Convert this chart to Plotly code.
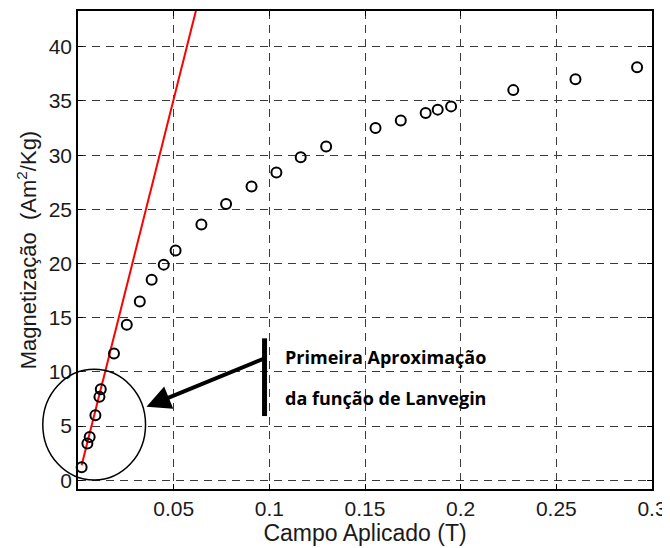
import plotly.graph_objects as go

# Data
campo = [0.0019, 0.0049, 0.0061, 0.0091, 0.0112, 0.0119, 0.0188, 0.0255, 0.0323,
         0.0385, 0.0448, 0.0510, 0.0645, 0.0774, 0.0907, 0.1037, 0.1164, 0.1297,
         0.1555, 0.1687, 0.1817, 0.1880, 0.1950, 0.2275, 0.2600, 0.2922]
magnet = [1.2, 3.4, 4.0, 6.0, 7.7, 8.4, 11.7, 14.35, 16.5,
          18.5, 19.9, 21.2, 23.6, 25.5, 27.1, 28.4, 29.8, 30.8,
          32.5, 33.2, 33.9, 34.2, 34.5, 36.0, 37.0, 38.1]

fit_x = [0.0019, 0.065]
fit_y = [1.4, 45.7]

x_ticks = [0.05, 0.1, 0.15, 0.2, 0.25, 0.3]
x_ticktext = ["0.05", "0.1", "0.15", "0.2", "0.25", "0.3"]
y_ticks = [0, 5, 10, 15, 20, 25, 30, 35, 40]

x_range = [0, 0.3]
y_range = [-0.8, 43.3]

def px_(x):
    return (x - x_range[0]) / (x_range[1] - x_range[0])

def py_(y):
    return (y - y_range[0]) / (y_range[1] - y_range[0])

fig = go.Figure()
fig.add_trace(go.Scatter(x=fit_x, y=fit_y, mode="lines",
                         line=dict(color="#ff0000", width=2), showlegend=False))
fig.add_trace(go.Scatter(x=campo, y=magnet, mode="markers",
                         marker=dict(symbol="circle-open", size=10, color="black",
                                     line=dict(width=2, color="black")),
                         showlegend=False, cliponaxis=False))

axis_common = dict(showline=True, linecolor="black", linewidth=1.5, mirror="ticks",
                   ticks="inside", ticklen=5, tickcolor="black",
                   showgrid=True, gridcolor="#3a3a3a", griddash="8px,6px", gridwidth=1,
                   zeroline=False, automargin=False,
                   tickfont=dict(family="Liberation Sans, Arial", size=21, color="#1a1a1a"))

fig.update_xaxes(range=x_range, tickvals=x_ticks, ticktext=x_ticktext,
                 title=dict(text="Campo Aplicado (T)", standoff=2,
                            font=dict(family="Liberation Sans, Arial", size=23, color="#1a1a1a")),
                 **axis_common)
fig.update_yaxes(range=y_range, tickvals=y_ticks,
                 title=dict(text="Magnetização  (Am<sup>2</sup>/Kg)", standoff=6,
                            font=dict(family="Liberation Sans, Arial", size=22, color="#1a1a1a")),
                 **axis_common)

# Ellipse around the first points (paper ref so it is not clipped)
ell_x = [-0.0184, 0.0353]
ell_y = [0.03, 10.24]
fig.add_shape(type="circle", xref="paper", yref="paper",
              x0=px_(ell_x[0]), x1=px_(ell_x[1]), y0=py_(ell_y[0]), y1=py_(ell_y[1]),
              line=dict(color="black", width=1.5))

# Vertical bar
fig.add_shape(type="line", xref="x", yref="y", x0=0.0975, x1=0.0975, y0=5.93, y1=13.1,
              line=dict(color="black", width=5))

# Arrow
fig.add_annotation(x=0.0358, y=6.79, ax=0.0975, ay=11.25, xref="x", yref="y",
                   axref="x", ayref="y", text="", showarrow=True,
                   arrowhead=2, arrowsize=1.2, arrowwidth=4, arrowcolor="black")

fig.add_annotation(x=0.1072, y=11.4, xref="x", yref="y", xanchor="left",
                   text="<b>Primeira Aproximação</b>", showarrow=False,
                   font=dict(family="Open Sans", size=18, color="black"))
fig.add_annotation(x=0.1072, y=7.62, xref="x", yref="y", xanchor="left",
                   text="<b>da função de Lanvegin</b>", showarrow=False,
                   font=dict(family="Open Sans", size=18, color="black"))

# The page body adds an 8px margin, so the figure is 8px smaller and the
# margins are reduced accordingly.
fig.update_layout(width=662, height=540, margin=dict(l=70, r=18, t=3, b=59),
                  paper_bgcolor="white", plot_bgcolor="white")

fig.write_html("out.html")
